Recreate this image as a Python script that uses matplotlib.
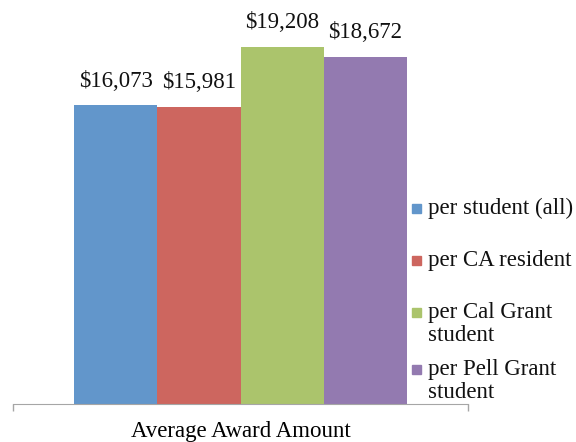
import matplotlib
matplotlib.use('Agg')
from matplotlib import pyplot as plt
from matplotlib.patches import Rectangle

series = ['per student (all)', 'per CA resident', 'per Cal Grant\nstudent', 'per Pell Grant\nstudent']
values = [16073, 15981, 19208, 18672]
category = 'Average Award Amount'
colors = ['#6296CB', '#CD665F', '#ABC46C', '#937AB0']

plt.rcParams['font.family'] = ['Liberation Serif']
FS = 16.5
W, H = 576, 442
fig = plt.figure(figsize=(W / 100, H / 100), dpi=100)
ax = fig.add_axes([13 / W, 38 / H, 455 / W, 404 / H])

xs = list(range(len(values)))
ax.bar(xs, values, width=1.0, color=colors, linewidth=0)
for x, v in zip(xs, values):
    ax.annotate('${:,}'.format(v), (x, v), xytext=(0, 24), textcoords='offset pixels',
                ha='center', va='center', fontsize=FS, color='#111111')

ax.set_xlim(-1.24, 4.24)
ax.set_ylim(0, 21732)
for s in ['top', 'right', 'left']:
    ax.spines[s].set_visible(False)
ax.spines['bottom'].set_color('#A6A6A6')
ax.set_yticks([])
ax.set_xticks([1.5])
ax.set_xticklabels([category], fontsize=FS)
ax.tick_params(axis='x', which='major', length=0, pad=12)
ax.set_xticks([-1.24, 4.24], minor=True)
ax.tick_params(axis='x', which='minor', length=5, color='#A6A6A6', width=1)
ax.patch.set_alpha(0)

# legend
legend_y = [209, 261, 313, 370]
for name, c, y in zip(series, colors, legend_y):
    fig.patches.append(Rectangle((412 / W, 1 - (y + 4) / H), 9 / W, 9 / H,
                                 transform=fig.transFigure, color=c, figure=fig))
    fig.text(428 / W, 1 - (y - 11) / H, name, fontsize=FS, va='top', ha='left',
             linespacing=1.12, color='#111111')

fig.savefig('out.png', dpi=100)
